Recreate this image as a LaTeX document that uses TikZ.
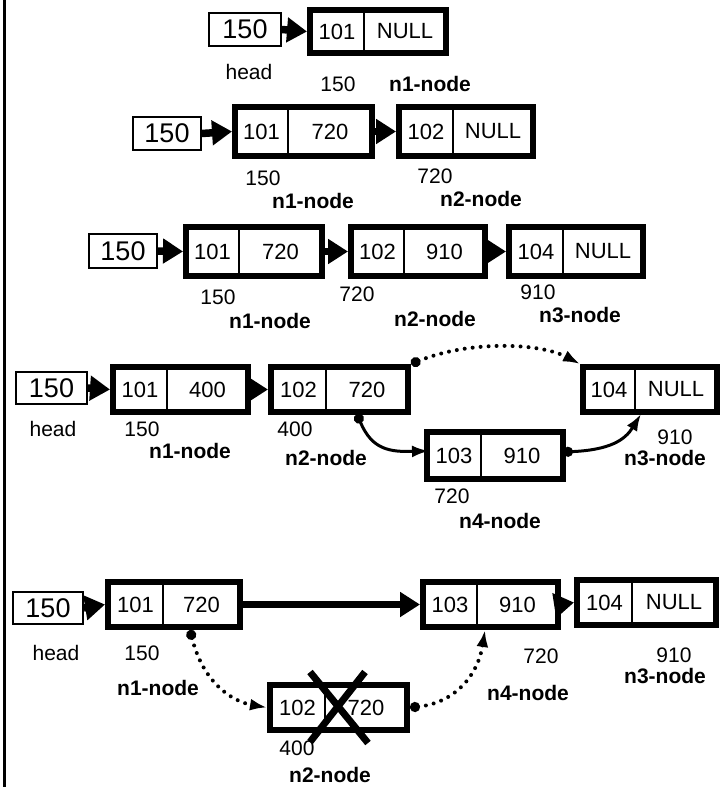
\documentclass[tikz,border=0pt]{standalone}
\usepackage{fontspec}
\setmainfont{Liberation Sans}
\usetikzlibrary{arrows.meta}
\tikzset{
  lbox/.style={draw, line width=6pt, inner sep=0pt},
  divline/.style={line width=2pt},
  hbox/.style={draw, line width=1.6pt, inner sep=0pt, font=\fontsize{27}{30}\selectfont},
  ntext/.style={inner sep=0pt, font=\fontsize{22}{26}\selectfont},
  lab/.style={inner sep=0pt, font=\fontsize{21}{25}\selectfont},
  blab/.style={inner sep=0pt, font=\bfseries\fontsize{21}{25}\selectfont},
  bigarrow/.style={line width=7.5pt, -{Triangle[length=20pt,width=24pt]}},
  curvearrow/.style={line width=3pt, {Circle[length=10pt]}-{Latex[length=17pt,width=12pt]}},
  dotarrow/.style={line width=4pt, dash pattern=on 0pt off 8pt, line cap=round, {Circle[length=10pt]}-{Latex[length=17pt,width=12pt]}},
  crossline/.style={line width=7pt},
}
% name, x1, y1, x2, y2, divider x, left text, right text
\newcommand{\lnodebox}[8]{%
  \pgfmathsetmacro\lnCX{(#2+#4)/2}%
  \pgfmathsetmacro\lnCY{(#3+#5)/2}%
  \pgfmathsetmacro\lnW{#4-#2}%
  \pgfmathsetmacro\lnH{#5-#3}%
  \pgfmathsetmacro\lnAX{(#2+#6)/2}%
  \pgfmathsetmacro\lnBX{(#6+#4)/2}%
  \node[lbox, minimum width=\lnW pt, minimum height=\lnH pt] (#1) at (\lnCX,\lnCY) {};
  \draw[divline] (#6,#3) -- (#6,#5);
  \node[ntext] (#1a) at (\lnAX,\lnCY) {#7};
  \node[ntext] (#1b) at (\lnBX,\lnCY) {#8};
}
% name, x1, y1, x2, y2
\newcommand{\headbox}[5]{%
  \pgfmathsetmacro\lnCX{(#2+#4)/2}%
  \pgfmathsetmacro\lnCY{(#3+#5)/2}%
  \pgfmathsetmacro\lnW{#4-#2}%
  \pgfmathsetmacro\lnH{#5-#3}%
  \node[hbox, minimum width=\lnW pt, minimum height=\lnH pt] (#1) at (\lnCX,\lnCY) {150};
}
\begin{document}
\begin{tikzpicture}[x=1pt,y=-1pt]
\useasboundingbox (0,0) rectangle (720,787);
\fill[white] (0,0) rectangle (720,787);
\draw[line width=3pt] (4,0) -- (4,787);

% ---------- Row 1 ----------
\headbox{ah}{209}{13}{281}{46}
\lnodebox{an1}{310}{10}{446}{53}{364}{101}{NULL}
\draw[bigarrow] (ah.east) -- (an1.west);
\node[lab] (ahl) at (249,72) {head};
\node[lab] (an1l) at (338,84) {150};
\node[blab] (an1n) at (430,84) {n1-node};

% ---------- Row 2 ----------
\headbox{bh}{133}{117}{201}{150}
\lnodebox{bn1}{235}{107}{372}{156}{288}{101}{720}
\lnodebox{bn2}{399}{107}{533}{156}{453}{102}{NULL}
\draw[bigarrow] (bh.east) -- (bn1.west);
\draw[bigarrow] (bn1.east) -- (bn2.west);
\node[lab] (bn1l) at (263,178) {150};
\node[blab] (bn1n) at (313,201) {n1-node};
\node[lab] (bn2l) at (435,176) {720};
\node[blab] (bn2n) at (481,199) {n2-node};

% ---------- Row 3 ----------
\headbox{ch}{89}{234}{157}{268}
\lnodebox{cn1}{186}{227}{322}{276}{239}{101}{720}
\lnodebox{cn2}{351}{227}{485}{276}{404}{102}{910}
\lnodebox{cn3}{509}{227}{643}{276}{563}{104}{NULL}
\draw[bigarrow] (ch.east) -- (cn1.west);
\draw[bigarrow] (cn1.east) -- (cn2.west);
\draw[bigarrow] (cn2.east) -- (cn3.west);
\node[lab] (cn1l) at (218,297) {150};
\node[blab] (cn1n) at (270,321) {n1-node};
\node[lab] (cn2l) at (357,294) {720};
\node[blab] (cn2n) at (435,319) {n2-node};
\node[lab] (cn3l) at (538,292) {910};
\node[blab] (cn3n) at (580,315) {n3-node};

% ---------- Row 4 ----------
\headbox{dh}{16}{372}{87}{404}
\lnodebox{dn1}{113}{367}{248}{412}{167}{101}{400}
\lnodebox{dn2}{271}{367}{408}{412}{326}{102}{720}
\lnodebox{dn3}{583}{367}{717}{412}{635}{104}{NULL}
\lnodebox{dn4}{427}{432}{563}{479}{481}{103}{910}
\draw[bigarrow] (dh.east) -- (dn1.west);
\draw[bigarrow] (dn1.east) -- (dn2.west);
\draw[dotarrow] (dn2.north east) .. controls (470,340) and (540,343) .. (dn3.north west);
\coordinate (dn2dot) at (357,414);
\coordinate (dn4in) at (429,451);
\draw[curvearrow] (dn2dot) .. controls (372,450) and (390,452) .. (dn4in);
\coordinate (dn4out) at (563,452);
\coordinate (dn3in) at (641,414);
\draw[curvearrow] (dn4out) .. controls (610,450) and (625,440) .. (dn3in);
\node[lab] (dhl) at (53,429) {head};
\node[lab] (dn1l) at (142,429) {150};
\node[blab] (dn1n) at (190,451) {n1-node};
\node[lab] (dn2l) at (295,429) {400};
\node[blab] (dn2n) at (326,458) {n2-node};
\node[lab] (dn4l) at (452,496) {720};
\node[blab] (dn4n) at (500,521) {n4-node};
\node[lab] (dn3l) at (675,437) {910};
\node[blab] (dn3n) at (665,458) {n3-node};

% ---------- Row 5 ----------
\headbox{eh}{13}{592}{83}{624}
\lnodebox{en1}{108}{582}{240}{627}{163}{101}{720}
\lnodebox{en4}{423}{582}{558}{627}{477}{103}{910}
\lnodebox{en3}{577}{580}{716}{625}{632}{104}{NULL}
\lnodebox{en2}{270}{685}{407}{730}{325}{102}{720}
\draw[bigarrow] (eh.east) -- (en1.west);
\draw[bigarrow] (en1.east) -- (en4.west);
\draw[bigarrow] (en4.east) -- (en3.west);
\coordinate (en1dot) at (190,630);
\coordinate (en4in) at (485,630);
\draw[dotarrow] (en1dot) .. controls (205,690) and (240,703) .. (en2.west);
\draw[dotarrow] (en2.east) .. controls (455,703) and (478,675) .. (en4in);
\coordinate (xa) at (310,672);
\coordinate (xb) at (368,743);
\coordinate (xc) at (365,672);
\coordinate (xd) at (310,742);
\draw[crossline] (xa) -- (xb);
\draw[crossline] (xc) -- (xd);
\node[lab] (ehl) at (56,653) {head};
\node[lab] (en1l) at (142,653) {150};
\node[blab] (en1n) at (158,688) {n1-node};
\node[lab] (en2l) at (297,748) {400};
\node[blab] (en2n) at (330,775) {n2-node};
\node[lab] (en4l) at (541,656) {720};
\node[blab] (en4n) at (528,693) {n4-node};
\node[lab] (en3l) at (674,655) {910};
\node[blab] (en3n) at (665,676) {n3-node};
\end{tikzpicture}
\end{document}
